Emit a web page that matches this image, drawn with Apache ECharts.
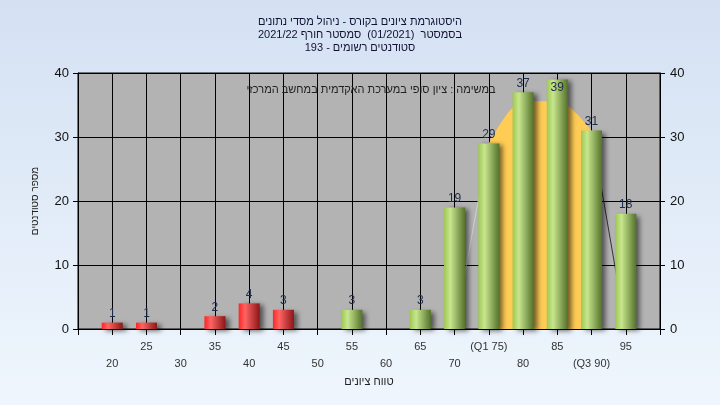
<!DOCTYPE html>
<html>
<head>
<meta charset="utf-8">
<script src="https://cdn.jsdelivr.net/npm/echarts@6/dist/echarts.min.js"></script>
<style>
html,body{margin:0;padding:0;}
#c{width:720px;height:405px;}
</style>
</head>
<body>
<div id="c"></div>
<script>
// ---- data ----
var titleLines = [
  'היסטוגרמת ציונים בקורס - ניהול מסדי נתונים',
  'בסמסטר  (01/2021)  סמסטר חורף 2021/22',
  'סטודנטים רשומים - 193'
];
var noteText = 'במשימה : ציון סופי במערכת האקדמית במחשב המרכזי';
var xAxisName = 'טווח ציונים';
var yAxisName = 'מספר סטודנטים';
var gradeBins = [20, 25, 30, 35, 40, 45, 50, 55, 60, 65, 70, 75, 80, 85, 90, 95];
var counts    = [1, 1, 0, 2, 4, 3, 0, 3, 0, 3, 19, 29, 37, 39, 31, 18];
var tickLabels = {20:'20',25:'25',30:'30',35:'35',40:'40',45:'45',50:'50',55:'55',
  60:'60',65:'65',70:'70',75:'(Q1 75)',80:'80',85:'85',90:'(Q3 90)',95:'95'};
var failLimit = 55;
// curve
var curveX = [70, 75, 80, 85, 90, 95];
var curveY = [0, 29, 35.6, 35.6, 31, 0];
var q1 = 75, q3 = 90;

// ---- build ----
var FONT = '"Liberation Sans", "DejaVu Sans", Arial, sans-serif';
var redGrad = new echarts.graphic.LinearGradient(0, 0, 1, 0, [
  {offset: 0, color: '#ff2424'}, {offset: 0.3, color: '#ff6464'}, {offset: 1, color: '#8c1616'}]);
var greenGrad = new echarts.graphic.LinearGradient(0, 0, 1, 0, [
  {offset: 0, color: '#9ec853'}, {offset: 0.3, color: '#c8e68e'}, {offset: 1, color: '#54722a'}]);
var yMax = 40;

var barData = gradeBins.map(function (g, i) {
  var nearTop = counts[i] > yMax - 2;
  return {
    value: [g, counts[i]],
    itemStyle: {color: g < failLimit ? redGrad : greenGrad},
    label: {show: counts[i] > 0, position: nearTop ? 'insideTop' : 'top', distance: nearTop ? 2 : 3}
  };
});
var curvePts = curveX.map(function (x, i) { return [x, curveY[i]]; });
var areaPts = curvePts.filter(function (p) { return p[0] >= q1 && p[0] <= q3; });
var leftPts = curvePts.filter(function (p) { return p[0] <= q1; });
var rightPts = curvePts.filter(function (p) { return p[0] >= q3; });

var chart = echarts.init(document.getElementById('c'), null, {renderer: 'canvas'});
var option = {
  animation: false,
  backgroundColor: new echarts.graphic.LinearGradient(0, 0, 0, 1, [
    {offset: 0, color: '#d4e1f3'}, {offset: 1, color: '#eff6fd'}]),
  textStyle: {fontFamily: FONT},
  title: [{
    text: titleLines.join('\n'),
    left: 'center', top: 10,
    textStyle: {fontSize: 11, fontWeight: 'normal', color: '#111133', lineHeight: 13, fontFamily: FONT}
  }, {
    text: noteText,
    left: 366, top: 79, textAlign: 'center',
    textStyle: {fontSize: 11, fontWeight: 'normal', color: '#222222', fontFamily: FONT}
  }],
  grid: {left: 78, right: 60, top: 73, bottom: 76, show: true, backgroundColor: '#b3b3b3', borderColor: '#000', borderWidth: 1},
  xAxis: {
    type: 'value', min: 15, max: 100, interval: 5,
    name: xAxisName, nameLocation: 'middle', nameGap: 46,
    nameTextStyle: {fontSize: 11, color: '#222', fontFamily: FONT},
    axisLine: {show: true, lineStyle: {color: '#000'}},
    axisTick: {show: true, length: 6, lineStyle: {color: '#000'}},
    splitLine: {show: true, lineStyle: {color: '#000', width: 1}},
    axisLabel: {
      margin: 9, fontSize: 11, color: '#333', lineHeight: 17, fontFamily: FONT,
      formatter: function (v) {
        var t = tickLabels[v];
        if (t === undefined) return '';
        return ((v / 5) % 2 === 1) ? t : '\n' + t;
      }
    }
  },
  yAxis: [{
    type: 'value', min: 0, max: yMax, interval: 10, position: 'left',
    name: yAxisName, nameLocation: 'middle', nameGap: 38, nameRotate: 90,
    nameTextStyle: {fontSize: 10, color: '#222', fontFamily: FONT},
    axisLine: {show: true, lineStyle: {color: '#000'}},
    axisTick: {show: true, length: 5, lineStyle: {color: '#000'}},
    splitLine: {show: true, lineStyle: {color: '#000', width: 1}},
    axisLabel: {fontSize: 13, color: '#111', margin: 9, fontFamily: FONT}
  }, {
    type: 'value', min: 0, max: yMax, interval: 10, position: 'right',
    axisLine: {show: true, lineStyle: {color: '#000'}},
    axisTick: {show: true, length: 5, lineStyle: {color: '#000'}},
    splitLine: {show: false},
    axisLabel: {fontSize: 13, color: '#111', margin: 10, fontFamily: FONT}
  }],
  series: [{
    type: 'line', data: areaPts, smooth: 0.3, symbol: 'none', z: 1,
    lineStyle: {width: 0, color: '#ffcc55'},
    areaStyle: {color: '#ffcc55', opacity: 1}
  }, {
    type: 'line', data: leftPts, symbol: 'none', z: 1,
    lineStyle: {width: 1, color: '#d0d0d0'}
  }, {
    type: 'line', data: rightPts, symbol: 'none', z: 1,
    lineStyle: {width: 1, color: '#333333'}
  }, {
    type: 'bar', data: barData, barWidth: 21, z: 3,
    itemStyle: {shadowBlur: 5, shadowOffsetX: 4, shadowOffsetY: 2, shadowColor: 'rgba(0,0,0,0.55)'},
    label: {
      fontSize: 12, color: '#1c2c4c', fontFamily: FONT,
      formatter: function (p) { return p.value[1]; }
    }
  }]
};
chart.setOption(option);
</script>
</body>
</html>
